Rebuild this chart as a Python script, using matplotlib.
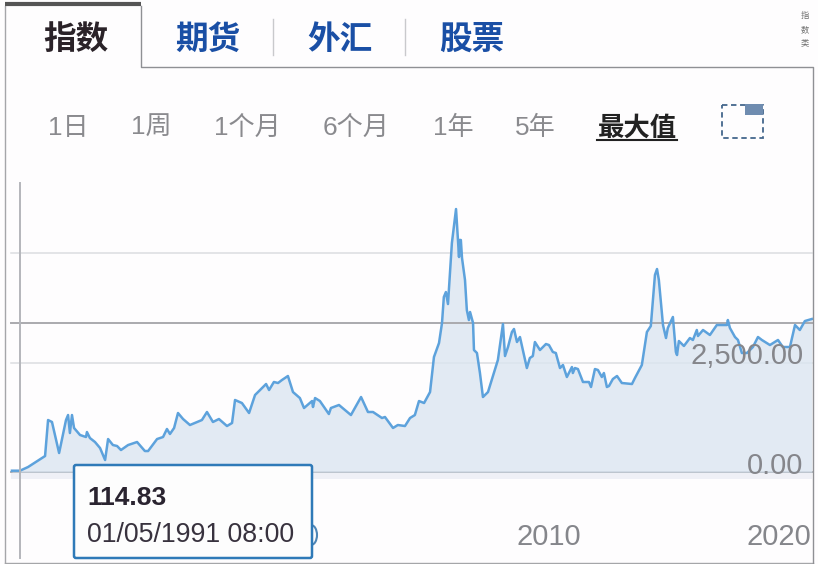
import matplotlib
matplotlib.use("Agg")
import matplotlib.pyplot as plt
from matplotlib.patches import Ellipse, FancyBboxPatch, Rectangle

plt.rcParams['font.family'] = ['Liberation Sans', 'Noto Sans CJK SC', 'DejaVu Sans']

# index level (decimal year, value)
years = [1986.65, 1987.0, 1987.35, 1988.09, 1988.22, 1988.39, 1988.70, 1989.0, 1989.09, 1989.17,
         1989.26, 1989.35, 1989.61, 1989.87, 1989.91, 1990.04, 1990.26, 1990.48, 1990.70, 1990.83,
         1991.04, 1991.22, 1991.39, 1991.70, 1992.09, 1992.43, 1992.57, 1992.96, 1993.22, 1993.39,
         1993.52, 1993.70, 1993.87, 1994.09, 1994.39, 1994.91, 1995.13, 1995.39, 1995.65, 1996.0,
         1996.22, 1996.35, 1996.65, 1996.96, 1997.22, 1997.70, 1997.83, 1998.04, 1998.22, 1998.39,
         1998.65, 1998.87, 1999.17, 1999.35, 1999.70, 1999.74, 1999.83, 2000.04, 2000.43, 2000.52,
         2000.87, 2001.39, 2001.83, 2002.13, 2002.35, 2002.74, 2002.87, 2003.22, 2003.43, 2003.74,
         2003.96, 2004.17, 2004.26, 2004.35, 2004.57, 2004.83, 2005.0, 2005.22, 2005.35, 2005.43,
         2005.52, 2005.61, 2005.78, 2005.96, 2006.09, 2006.11, 2006.17, 2006.22, 2006.35, 2006.43,
         2006.52, 2006.57, 2006.70, 2006.74, 2006.87, 2007.0, 2007.13, 2007.35, 2007.78, 2008.0,
         2008.09, 2008.22, 2008.39, 2008.48, 2008.61, 2008.74, 2009.04, 2009.17, 2009.30, 2009.39,
         2009.61, 2009.87, 2010.0, 2010.17, 2010.30, 2010.48, 2010.61, 2010.78, 2011.0, 2011.04,
         2011.13, 2011.26, 2011.48, 2011.74, 2011.83, 2012.0, 2012.13, 2012.30, 2012.39, 2012.52,
         2012.61, 2012.78, 2012.96, 2013.17, 2013.61, 2013.74, 2014.04, 2014.26, 2014.43, 2014.61,
         2014.70, 2014.78, 2014.96, 2015.09, 2015.17, 2015.39, 2015.52, 2015.57, 2015.65, 2015.87,
         2016.13, 2016.26, 2016.43, 2016.48, 2016.70, 2017.0, 2017.30, 2017.74, 2017.78, 2017.87,
         2018.09, 2018.22, 2018.39, 2018.61, 2018.87, 2019.09, 2019.26, 2019.61, 2019.96, 2020.17,
         2020.48, 2020.70, 2020.91, 2021.13, 2021.43]
values = [30, 30, 114, 365, 1187, 1142, 434, 1187, 1301, 890,
          1301, 1005, 845, 799, 913, 776, 685, 548, 274, 753,
          616, 594, 502, 616, 685, 479, 479, 753, 799, 982,
          868, 1005, 1347, 1210, 1073, 1187, 1370, 1142, 1210, 1050,
          1119, 1644, 1575, 1347, 1758, 2009, 1872, 2055, 2032, 2100,
          2192, 1826, 1689, 1461, 1621, 1484, 1689, 1621, 1324, 1461,
          1530, 1301, 1712, 1370, 1370, 1233, 1256, 1005, 1073, 1050,
          1233, 1301, 1461, 1621, 1575, 1826, 2625, 2945, 3402, 3995,
          4109, 3835, 5228, 6004, 4908, 5297, 5297, 4886, 4383, 3698,
          3470, 3653, 3402, 2785, 2717, 2260, 1712, 1826, 2557, 3379,
          2648, 2854, 3196, 3265, 2968, 3082, 2374, 2603, 2648, 2968,
          2785, 2922, 2899, 2740, 2717, 2374, 2443, 2169, 2397, 2260,
          2374, 2351, 2055, 2055, 1941, 2351, 2329, 2169, 2260, 1941,
          1963, 2123, 2192, 2032, 2009, 2146, 2443, 3196, 3333, 4498,
          4634, 4383, 3356, 3059, 3288, 3539, 2740, 2671, 2991, 2877,
          3059, 3014, 3242, 3105, 3242, 3128, 3356, 3356, 3470, 3288,
          3082, 3014, 2717, 2717, 2854, 3082, 3014, 2899, 3014, 2854,
          2854, 3356, 3242, 3447, 3493]

grid_values = [2500, 5000]
prev_close = 3400
y_tick_values = [2500, 0]
y_tick_labels = ['2,500.00', '0.00']
x_tick_years = [2010, 2020]
x_tick_labels = ['2010', '2020']
tabs = ['期货', '外汇', '股票']
ranges = ['1日', '1周', '1个月', '6个月', '1年', '5年']
tip_value = '114.83'
tip_date = '01/05/1991 08:00'

fig = plt.figure(figsize=(8.18, 5.64), dpi=100, facecolor='#fefdfe')

# chart axes fill the figure, limits chosen so 1 year = 23px and 2500 = 109.5px
ax = fig.add_axes([0, 0, 1, 1])
ax.set_xlim(1986.13, 2021.70)
ax.set_ylim(-2100, 10776)
ax.axis('off')

x_start, x_end = years[0] - 0.05, years[-1]
ax.plot([x_start, x_end], [0, 0], color='#a8adb5', lw=1.4, zorder=2)
ax.fill_between([x_start, x_end], -160, 0, color='#eff0f6', lw=0, zorder=1)
for v in grid_values:
    ax.plot([x_start, x_end], [v, v], color='#dcdde1', lw=1.1, zorder=1)
ax.plot([x_start, x_end], [prev_close, prev_close], color='#aaaaae', lw=1.4, zorder=3)
ax.fill_between(years, values, 0, color='#dbe6f1', alpha=0.8, lw=0, zorder=2)
ax.plot(years, values, color='#5da2dc', lw=1.8, zorder=4)
ax.axvline(1987.0, ymin=6 / 564, ymax=381 / 564, color='#b4b6bb', lw=1.4, zorder=5)

for v, label in zip(y_tick_values, y_tick_labels):
    ax.text(2021.08, v + 145, label, fontsize=21, color='#85868b', ha='right', va='center', zorder=6)
for yr, label in zip(x_tick_years, x_tick_labels):
    ax.text(yr, -1485, label, fontsize=21, color='#85868b', ha='center', va='center', zorder=6)

# page furniture goes on a second axes in pixel coordinates
ui = fig.add_axes([0, 0, 1, 1])
ui.set_xlim(0, 818)
ui.set_ylim(564, 0)
ui.axis('off')
ui.patch.set_alpha(0)

border = '#8f9094'
ui.plot([4.5, 4.5], [6, 563], color='#a5a6a9', lw=1)
ui.plot([4.5, 812.5], [563, 563], color='#a5a6a9', lw=1)
ui.plot([141, 141, 812.5, 812.5], [6, 67, 67, 563], color=border, lw=1)
ui.plot([5, 141], [4, 4], color='#555555', lw=3, solid_capstyle='butt')
for x in [272.5, 404.5]:
    ui.plot([x, x], [19, 55], color='#c9c9cc', lw=1)

ui.text(75.5, 40, '指数', fontsize=23.5, fontweight='bold', color='#2a2228', ha='center', va='center')
for x, label in zip([208, 339.5, 472], tabs):
    ui.text(x, 40, label, fontsize=23.5, fontweight='bold', color='#1a4fa5', ha='center', va='center')
for y, ch in zip([16, 30, 43], '指数类'):
    ui.text(805, y, ch, fontsize=6, color='#6f6f6f', ha='center', va='center')

for x, label in zip([68.5, 151, 247, 356, 453, 535], ranges):
    ui.text(x, 128, label, fontsize=18.8, color='#8a8a8e', ha='center', va='center')
ui.text(637, 128, '最大值', fontsize=19, fontweight='bold', color='#222222', ha='center', va='center')
ui.plot([597, 677], [139.5, 139.5], color='#222222', lw=1.5)

ui.add_patch(Rectangle((722, 105), 41, 33, fill=False, ec='#44678c', lw=1.3, ls=(0, (3, 2))))
ui.add_patch(Rectangle((745, 104), 18, 11, fc='#6f8cb0', ec='none', zorder=3))

# tooltip, with the cut off point marker peeking out on its right edge
ui.add_patch(Ellipse((311, 535), 12, 20, fc='none', ec='#4f86b5', lw=1.5, zorder=5))
ui.add_patch(FancyBboxPatch((74, 465), 238, 93, boxstyle='round,pad=0,rounding_size=2', fc='#fdfdfd',
                            ec='#2f7ab8', lw=1.8, zorder=7))
ui.text(87, 498, tip_value, fontsize=19, fontweight='bold', color='#2a2430', ha='left', va='center', zorder=8)
ui.text(87, 535, tip_date, fontsize=19.3, color='#38323e', ha='left', va='center', zorder=8)

fig.savefig('out.png', dpi=100, facecolor=fig.get_facecolor())
